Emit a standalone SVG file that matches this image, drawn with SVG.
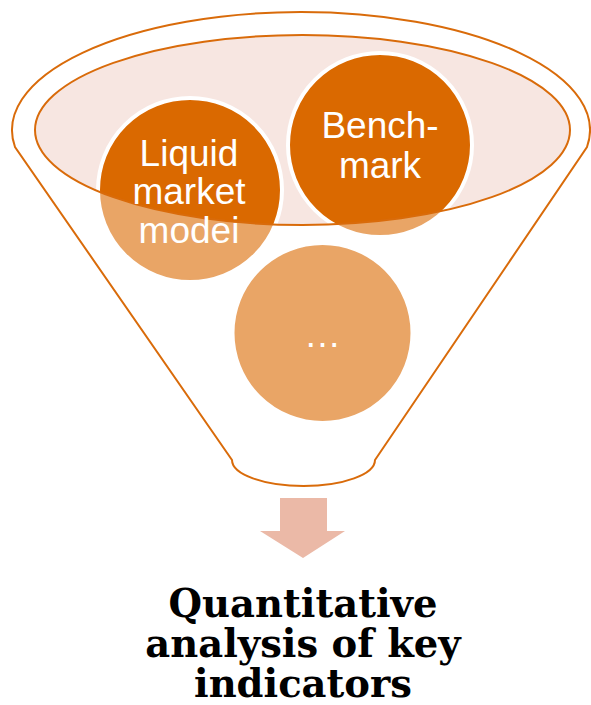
<svg xmlns="http://www.w3.org/2000/svg" width="591" height="705" viewBox="0 0 591 705">
<style>
.circ{fill:#DA6900;stroke:#FFFFFF;stroke-width:4}
.lbl{font-family:"Liberation Sans",Arial,sans-serif;font-size:37px;fill:#FFFFFF;text-anchor:middle}
.line{fill:none;stroke:#D96B0A;stroke-width:2}
.title{font-family:"DejaVu Serif","Liberation Serif",serif;font-weight:bold;font-size:38.5px;fill:#000000;text-anchor:middle}
</style>
<rect width="591" height="705" fill="#FFFFFF"/>
<g id="funnel-opening">
<ellipse cx="302.5" cy="130" rx="267.5" ry="95" fill="#F7E6E1"/>
</g>
<g id="node-liquid">
<circle class="circ" cx="190" cy="190" r="92"/>
</g>
<g id="node-benchmark">
<circle class="circ" cx="380" cy="145" r="92"/>
</g>
<g id="node-more">
<circle class="circ" cx="322.5" cy="333" r="90"/>
</g>
<g id="funnel-body">
<path fill="#FFFFFF" fill-opacity="0.4" fill-rule="evenodd" d="M15,147 A289,118 0 1 1 587,147 L375,460 A71.5,26 0 0 1 232,460 Z M35,130 A267.5,95 0 1 0 570,130 A267.5,95 0 1 0 35,130 Z"/>
<path class="line" d="M15,147 A289,118 0 1 1 587,147 L375,460 A71.5,26 0 0 1 232,460 Z"/>
<ellipse class="line" cx="302.5" cy="130" rx="267.5" ry="95"/>
</g>
<g id="labels">
<text class="lbl" x="189" y="166">Liquid</text>
<text class="lbl" x="189" y="204">market</text>
<text class="lbl" x="189" y="243">modei</text>
<text class="lbl" x="380" y="138">Bench-</text>
<text class="lbl" x="380" y="178">mark</text>
<text class="lbl" x="322.5" y="347" font-size="30">…</text>
</g>
<g id="connectors">
<path d="M280,498 L327,498 L327,531 L345,531 L303,558 L260,531 L280,531 Z" fill="#EBB9A7"/>
</g>
<g id="node-result">
<text class="title" x="303" y="617">Quantitative</text>
<text class="title" x="303" y="657">analysis of key</text>
<text class="title" x="303" y="697">indicators</text>
</g>
</svg>
